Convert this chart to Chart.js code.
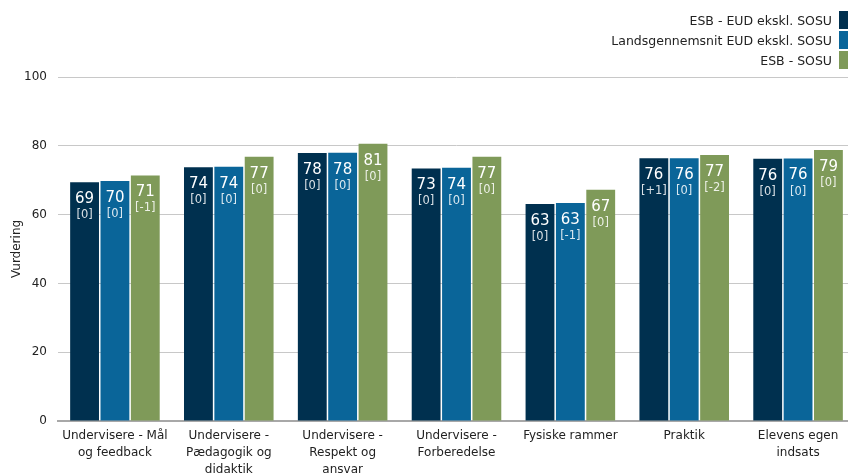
<!DOCTYPE html>
<html>
<head>
<meta charset="utf-8">
<script src="https://cdn.jsdelivr.net/npm/chart.js@4"></script>
<style>
  html, body { margin: 0; padding: 0; background: #fff; overflow: hidden; }
  #wrap { position: relative; width: 855px; height: 478px; }
  #legend { position: absolute; top: 10px; right: 7px; font: 12.5px "DejaVu Sans", sans-serif; color: #222; }
  #legend div { display: flex; justify-content: flex-end; align-items: center; height: 20px; }
  #legend span.box { display: inline-block; width: 9px; height: 18px; margin-left: 7px; }
</style>
</head>
<body>
<div id="wrap">
  <canvas id="chart" width="855" height="478"></canvas>
  <div id="legend"></div>
</div>
<script>
// Kategorier
const categories = [
  ['Undervisere - Mål', 'og feedback'],
  ['Undervisere -', 'Pædagogik og', 'didaktik'],
  ['Undervisere -', 'Respekt og', 'ansvar'],
  ['Undervisere -', 'Forberedelse'],
  'Fysiske rammer',
  'Praktik',
  ['Elevens egen', 'indsats']
];

const seriesNames = ['ESB - EUD ekskl. SOSU', 'Landsgennemsnit EUD ekskl. SOSU', 'ESB - SOSU'];
const seriesColors = ['#00304f', '#0a6599', '#7f9a59'];

// Vurderinger
const esbEud = [69.4, 73.8, 77.9, 73.4, 63.1, 76.4, 76.2];
const landsEud = [69.8, 73.9, 78.0, 73.6, 63.4, 76.4, 76.3];
const esbSosu = [71.4, 76.8, 80.6, 76.8, 67.2, 77.3, 78.8];

// Ændring siden sidst
const esbEudChange = ['[0]', '[0]', '[0]', '[0]', '[0]', '[+1]', '[0]'];
const landsEudChange = ['[0]', '[0]', '[0]', '[0]', '[-1]', '[0]', '[0]'];
const esbSosuChange = ['[-1]', '[0]', '[0]', '[0]', '[0]', '[-2]', '[0]'];

const yTicks = [0, 20, 40, 60, 80, 100];

const FONT = '"DejaVu Sans", sans-serif';
const values = [esbEud, landsEud, esbSosu];
const changes = [esbEudChange, landsEudChange, esbSosuChange];

// Etiketter inde i søjlerne
const barLabels = {
  id: 'barLabels',
  afterDatasetsDraw(chart) {
    const ctx = chart.ctx;
    ctx.save();
    ctx.textAlign = 'center';
    ctx.textBaseline = 'middle';
    chart.data.datasets.forEach((ds, i) => {
      chart.getDatasetMeta(i).data.forEach((bar, j) => {
        ctx.fillStyle = '#ffffff';
        ctx.font = '15px ' + FONT;
        ctx.fillText(Math.round(ds.data[j]), bar.x, bar.y + 17);
        ctx.fillStyle = 'rgba(255,255,255,0.85)';
        ctx.font = '11.5px ' + FONT;
        ctx.fillText(changes[i][j], bar.x, bar.y + 33);
      });
    });
    ctx.restore();
  }
};

new Chart(document.getElementById('chart'), {
  type: 'bar',
  data: {
    labels: categories,
    datasets: seriesNames.map((name, i) => ({
      label: name,
      data: values[i],
      backgroundColor: seriesColors[i],
      categoryPercentage: 0.8,
      barPercentage: 0.95
    }))
  },
  options: {
    responsive: false,
    animation: false,
    layout: { padding: { top: 77, right: 0, left: 10, bottom: 0 } },
    plugins: { legend: { display: false }, tooltip: { enabled: false } },
    scales: {
      x: {
        grid: { display: false },
        border: { color: '#a8a8a8', width: 2 },
        afterFit: axis => { axis.height = 57; },
        ticks: { color: '#222', font: { family: FONT, size: 12, lineHeight: 1.38 }, maxRotation: 0, autoSkip: false, padding: -1 }
      },
      y: {
        min: 0, max: 100,
        afterBuildTicks: axis => { axis.ticks = yTicks.map(v => ({ value: v })); },
        afterFit: axis => { axis.width = 48; },
        grid: { color: '#c8c8c8', lineWidth: 1, drawTicks: false },
        border: { display: false },
        ticks: { color: '#222', font: { family: FONT, size: 12 }, padding: 11 },
        title: { display: true, text: 'Vurdering', color: '#222', font: { family: FONT, size: 12 }, padding: 0 }
      }
    }
  },
  plugins: [barLabels]
});

// Forklaring
const legend = document.getElementById('legend');
seriesNames.forEach((name, i) => {
  const row = document.createElement('div');
  row.innerHTML = '<span>' + name + '</span><span class="box" style="background:' + seriesColors[i] + '"></span>';
  legend.appendChild(row);
});
</script>
</body>
</html>
